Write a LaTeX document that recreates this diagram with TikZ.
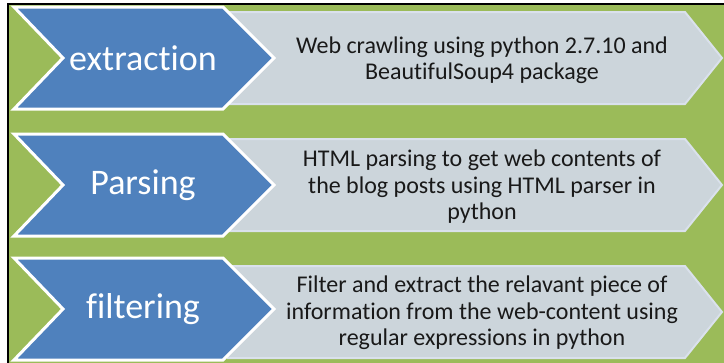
\documentclass[tikz,border=0pt]{standalone}
\usepackage{fontspec}
\setmainfont{Carlito}[Ligatures={NoCommon,NoRequired,NoContextual}]
\definecolor{bggreen}{RGB}{155,187,89}
\definecolor{chevblue}{RGB}{79,129,189}
\definecolor{boxgray}{RGB}{204,213,219}
\definecolor{boxline}{RGB}{218,225,236}
\begin{document}
\begin{tikzpicture}[x=1pt,y=-1pt,
  grayarrow/.style={fill=boxgray,draw=boxline,line width=2pt,line join=miter},
  bluechev/.style={fill=chevblue,draw=white,line width=3pt,line join=miter},
  steplabel/.style={text=white,font=\fontsize{36}{43}\selectfont,inner sep=0pt},
  desctext/.style={text=black!90,font=\fontsize{24}{26.5}\selectfont,align=center,inner sep=0pt}]
\useasboundingbox (0,0) rectangle (724,362);
\clip (0,0) rectangle (724,362);
\fill[white] (0,0) rectangle (724,362);
\draw[fill=bggreen,draw=black,line width=1.4pt] (8,4) rectangle (760,400);
% row 1
\draw[grayarrow] (228,12) -- (685,12) -- (722,58) -- (685,104) -- (228,104) -- cycle;
\draw[bluechev] (14,7) -- (223,7) -- (274,58) -- (223,109) -- (14,109) -- (63,58) -- cycle;
\node[steplabel] (l1) at (143,58) {extraction};
\node[desctext] (d1) at (482,60) {Web crawling using python 2.7.10 and\\BeautifulSoup4 package};
% row 2
\draw[grayarrow] (228,139) -- (685,139) -- (722,185) -- (685,231) -- (228,231) -- cycle;
\draw[bluechev] (14,134) -- (223,134) -- (274,185) -- (223,236) -- (14,236) -- (63,185) -- cycle;
\node[steplabel] (l2) at (143,185) {Parsing};
\node[desctext] (d2) at (482,187) {HTML parsing to get web contents of\\the blog posts using HTML parser in\\python};
% row 3
\draw[grayarrow] (228,266) -- (685,266) -- (722,312) -- (685,358) -- (228,358) -- cycle;
\draw[bluechev] (14,258) -- (223,258) -- (274,309) -- (223,360) -- (14,360) -- (63,309) -- cycle;
\node[steplabel] (l3) at (143,309) {filtering};
\node[desctext] (d3) at (482,313) {Filter and extract the relavant piece of\\information from the web-content using\\regular expressions in python};
\end{tikzpicture}
\end{document}
